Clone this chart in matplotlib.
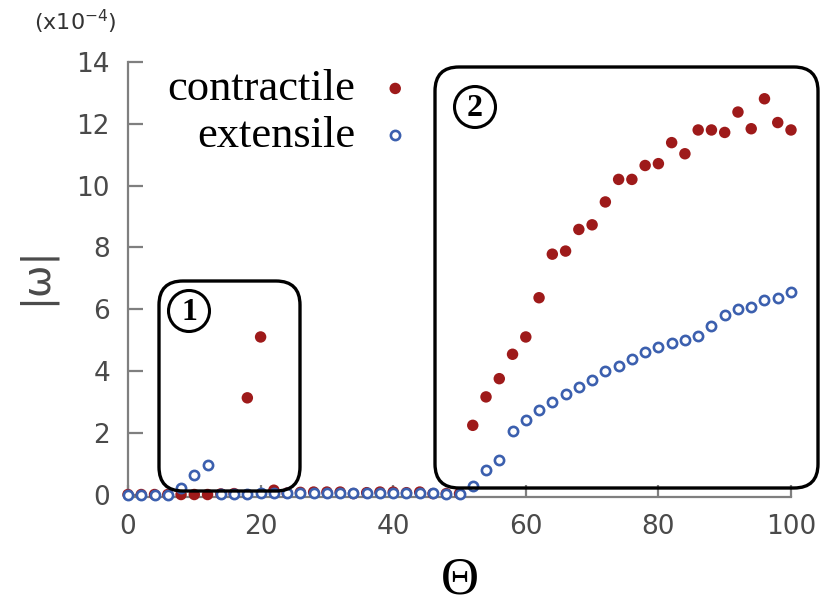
import matplotlib
matplotlib.use("Agg")
import matplotlib.pyplot as plt
from matplotlib.patches import FancyBboxPatch, Circle
import numpy as np

# ---------------- data ----------------
theta = list(range(0, 101, 2))
contractile = [0, 0, 0, 0, 0, 0, 0, 0.02, 0.03, 3.13, 5.1,
               0.14, 0.05, 0.07, 0.08, 0.08, 0.08, 0.03, 0.06, 0.08, 0.08,
               0.06, 0.08, 0.03, 0.03, 0.03,
               2.24, 3.16, 3.75, 4.54, 5.1, 6.37, 7.78, 7.88, 8.58, 8.73,
               9.47, 10.2, 10.2, 10.65, 10.71, 11.39, 11.03, 11.8, 11.8, 11.72,
               12.38, 11.84, 12.81, 12.04, 11.8]
extensile = [0, 0, 0, 0, 0.22, 0.63, 0.95,
             0.01, 0.02, 0.03, 0.04, 0.05, 0.05, 0.05, 0.06, 0.05, 0.05, 0.04,
             0.05, 0.05, 0.06, 0.05, 0.06, 0.04, 0.03, 0.03,
             0.28, 0.81, 1.13, 2.06, 2.4, 2.75, 3.0, 3.27, 3.48, 3.72,
             3.99, 4.15, 4.38, 4.62, 4.78, 4.89, 4.99, 5.12, 5.46, 5.8,
             5.99, 6.07, 6.29, 6.37, 6.54]
xticks = [0, 20, 40, 60, 80, 100]
yticks = [0, 2, 4, 6, 8, 10, 12, 14]
series_labels = ["contractile", "extensile"]

RED = "#9e1a1a"
BLUE = "#3b5fae"
GRAY = "#7f7f7f"
TXT = "#4a4a4a"

W, H = 824, 611
fig = plt.figure(figsize=(W / 100, H / 100), dpi=100)
ax = fig.add_axes([128 / W, 1 - 497 / H, (791 - 128) / W, (497 - 62) / H])

ax.scatter(theta, contractile, s=68, color=RED, edgecolors="none",
           label=series_labels[0], clip_on=False, zorder=3)
ax.scatter(theta, extensile, s=44, facecolors="white", edgecolors=BLUE,
           linewidths=1.9, label=series_labels[1], clip_on=False, zorder=4)

ax.set_xlim(0, 100)
ax.set_ylim(-0.08, 14)
ax.set_xticks(xticks)
ax.set_yticks(yticks)
for s in ["top", "right"]:
    ax.spines[s].set_visible(False)
for s in ["left", "bottom"]:
    ax.spines[s].set_color(GRAY)
    ax.spines[s].set_linewidth(1.6)
ax.tick_params(axis="y", direction="in", length=11, width=1.6, color=GRAY,
               labelsize=19, labelcolor=TXT, pad=13)
ax.tick_params(axis="x", direction="in", length=9, width=1.6, color=GRAY,
               labelsize=19, labelcolor=TXT, pad=12)

ax.set_xlabel("Θ", family="Liberation Serif", fontsize=38, color="black",
              labelpad=12)
fig.text(35 / W, 1 - 276 / H, "|ω|", rotation=90, ha="center", va="center",
         fontsize=28, color=TXT, family="DejaVu Sans")
fig.text(75 / W, 1 - 22 / H, "(x10$^{-4}$)", ha="center", va="center",
         fontsize=16, color="#333333")

leg = ax.legend(loc="upper right", bbox_to_anchor=(413 / W, 1 - 69 / H),
                bbox_transform=fig.transFigure, markerfirst=False,
                frameon=False, scatterpoints=1, handlelength=0.8,
                handletextpad=0.5, labelspacing=0.15, borderpad=0,
                borderaxespad=0,
                prop={"family": "Liberation Serif", "size": 32})

# ---------------- annotation boxes (pixel overlay) ----------------
ov = fig.add_axes([0, 0, 1, 1], zorder=5)
ov.set_xlim(0, W)
ov.set_ylim(H, 0)
ov.axis("off")
ov.patch.set_alpha(0)

boxes = [(159, 281, 141, 210), (435, 67, 383, 421)]
for (x0, y0, bw, bh) in boxes:
    ov.add_patch(FancyBboxPatch((x0, y0), bw, bh,
                                boxstyle="round,pad=0,rounding_size=24",
                                fill=False, lw=2.4, ec="black"))

for (cx, cy, lab) in [(189, 311, "1"), (475, 107, "2")]:
    ov.add_patch(Circle((cx, cy), 20.5, fill=False, lw=2.2, ec="black"))
    ov.text(cx, cy + 1, lab, ha="center", va="center",
            family="Liberation Serif", fontweight="bold", fontsize=23)

fig.savefig("out.png", dpi=100)
